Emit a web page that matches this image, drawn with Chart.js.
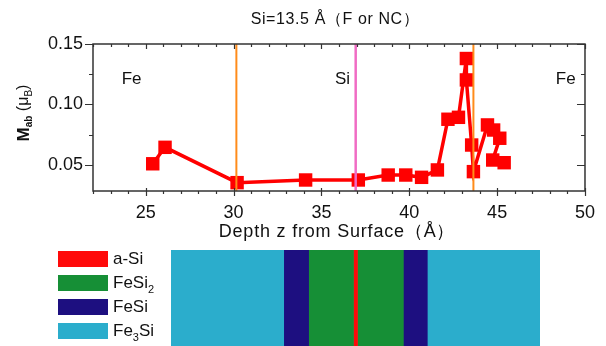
<!DOCTYPE html>
<html>
<head>
<meta charset="utf-8">
<script src="https://cdn.jsdelivr.net/npm/chart.js@4.4.1/dist/chart.umd.min.js"></script>
<style>
	body { margin: 0; background: #fff; }
	#wrap { position: relative; width: 606px; height: 346px; overflow: hidden; font-family: 'Liberation Sans', Arial, sans-serif; }
	#main { position: absolute; left: 0; top: 0; }
	#layers { position: absolute; left: 0; top: 246px; }
	#legend { position: absolute; left: 58px; top: 251px; }
	.leg-row { display: flex; align-items: flex-start; height: 24px; }
	.leg-box { width: 50px; height: 16px; margin-right: 5px; }
	.leg-text { font-size: 17px; color: #111; line-height: 16px; }
	.leg-text sub { font-size: 11px; vertical-align: -5px; line-height: 0; }
</style>
</head>
<body>
<div id="wrap">
	<canvas id="main" width="606" height="246"></canvas>
	<canvas id="layers" width="606" height="100"></canvas>
	<div id="legend"></div>
</div>
<script>
// data
const depth = [ 25.4, 26.1, 30.2, 34.1, 37.1, 38.8, 39.8, 40.7, 41.6, 42.2, 42.8, 43.25, 43.25, 43.55, 43.65, 44.45, 44.8, 45.15, 44.75, 45.4 ];
const moment = [ 0.051, 0.0646, 0.0354, 0.0376, 0.0376, 0.0417, 0.0417, 0.0398, 0.0459, 0.0878, 0.0894, 0.138, 0.1203, 0.0665, 0.0445, 0.0831, 0.0789, 0.0721, 0.0541, 0.0519 ];
const xTickValues = [ 25, 30, 35, 40, 45, 50 ];
const yTickValues = [ 0.05, 0.1, 0.15 ];
const boundaryDepths = [ 30.16, 36.95, 43.65 ];
const regionLabels = [ 'Fe', 'Si', 'Fe' ];
const regionDepths = [ 24.2, 36.2, 48.9 ];

// layer diagram
const layerNames = [ 'a-Si', 'FeSi2', 'FeSi', 'Fe3Si' ];
const layerStack = [ 'Fe3Si', 'FeSi', 'FeSi2', 'a-Si', 'FeSi2', 'FeSi', 'Fe3Si' ];
const layerThickness = [ 113, 25, 45, 4, 46, 24, 113 ];

const layerColors = { 'a-Si': '#ff0a0a', FeSi2: '#168f36', FeSi: '#1d0f80', Fe3Si: '#2badcc' };
const boundaryColors = [ '#ff8c1a', '#f06cc4', '#ff8c1a' ];
const xMin = 22, xMax = 50, yMin = 0.0285, yMax = 0.15;
const FONT = "'Liberation Sans', Arial, sans-serif";

//MAIN CHART - ticks, frame and texts
const framePlugin = {
	id: 'frame',
	afterDraw(chart) {
		const c = chart.ctx;
		const a = chart.chartArea;
		const xs = chart.scales.x;
		const ys = chart.scales.y;
		c.save();
		c.strokeStyle = '#333';
		c.lineWidth = 1.5;
		c.strokeRect(a.left, a.top, a.right - a.left, a.bottom - a.top);
		c.lineWidth = 1.2;
		c.beginPath();
		for (let v = xMin; v <= xMax; v++) {
			const px = Math.round(xs.getPixelForValue(v)) + 0.5;
			const major = v % 5 === 0;
			c.moveTo(px, a.bottom - (major ? 3 : 0));
			c.lineTo(px, a.bottom + (major ? 5 : 3));
			c.moveTo(px, a.top);
			c.lineTo(px, a.top + (major ? 5 : 3));
		}
		for (let v = 0.05; v <= yMax + 1e-9; v += 0.025) {
			const py = Math.round(ys.getPixelForValue(v)) + 0.5;
			const major = Math.abs(v * 20 - Math.round(v * 20)) < 1e-6;
			c.moveTo(a.left - (major ? 8 : 4), py);
			c.lineTo(a.left, py);
			c.moveTo(a.right, py);
			c.lineTo(a.right - (major ? 8 : 4), py);
		}
		c.stroke();

		c.fillStyle = '#111';
		c.textAlign = 'center';
		c.textBaseline = 'middle';
		const cx = (a.left + a.right) / 2;
		c.font = '16px ' + FONT;
		c.letterSpacing = '0.6px';
		c.fillText('Si=13.5 Å（F or NC）', cx - 4, 20);
		c.font = '18px ' + FONT;
		c.letterSpacing = '0.8px';
		c.fillText('Depth z from Surface（Å）', cx - 2, 232);
		c.letterSpacing = '0px';

		c.font = '17px ' + FONT;
		regionLabels.forEach((t, i) => {
			c.fillText(t, xs.getPixelForValue(regionDepths[i]), ys.getPixelForValue(0.1205));
		});

		// y title: M_ab (μ_B), rotated
		const parts = [
			{ t: 'M', f: 'bold 17px ' + FONT, dy: 0 },
			{ t: 'ab', f: 'bold 10px ' + FONT, dy: 5 },
			{ t: ' (μ', f: '16px ' + FONT, dy: 0 },
			{ t: 'B', f: '10px ' + FONT, dy: 5 },
			{ t: ')', f: '16px ' + FONT, dy: 0 }
		];
		let total = 0;
		parts.forEach((p) => {
			c.font = p.f;
			p.w = c.measureText(p.t).width;
			total += p.w;
		});
		c.translate(24, 113);
		c.rotate(-Math.PI / 2);
		c.textAlign = 'left';
		let x = -total / 2;
		parts.forEach((p) => {
			c.font = p.f;
			c.fillText(p.t, x, p.dy);
			x += p.w;
		});
		c.restore();
	}
};

const datasets = [
	{
		label: 'Mab',
		data: depth.map((d, i) => ({ x: d, y: moment[i] })),
		showLine: true,
		borderColor: '#ff0000',
		borderWidth: 3.5,
		pointStyle: 'rect',
		pointRadius: 9.5,
		pointBackgroundColor: '#ff0000',
		pointBorderWidth: 0,
		order: 1
	}
];
boundaryDepths.forEach((b, i) => {
	datasets.push({
		label: 'boundary' + i,
		data: [ { x: b, y: yMin }, { x: b, y: yMax } ],
		showLine: true,
		borderColor: boundaryColors[i],
		borderWidth: i === 1 ? 2.5 : 2,
		pointRadius: 0,
		order: 0
	});
});

const mainChart = new Chart(document.querySelector('#main').getContext('2d'), {
	type: 'scatter',
	data: { datasets: datasets },
	options: {
		responsive: false,
		animation: false,
		layout: { padding: { top: 44, right: 20, bottom: 0, left: 0 } },
		plugins: { legend: { display: false }, tooltip: { enabled: false } },
		scales: {
			x: {
				type: 'linear',
				min: xMin,
				max: xMax,
				afterBuildTicks: (s) => (s.ticks = xTickValues.map((v) => ({ value: v }))),
				afterFit: (s) => (s.height = 55),
				grid: { display: false, drawTicks: false },
				border: { display: false },
				ticks: { color: '#111', font: { size: 18, family: FONT }, padding: 11, maxRotation: 0, autoSkip: false }
			},
			y: {
				min: yMin,
				max: yMax,
				afterBuildTicks: (s) => (s.ticks = yTickValues.map((v) => ({ value: v }))),
				afterFit: (s) => (s.width = 93),
				grid: { display: false, drawTicks: false },
				border: { display: false },
				ticks: { color: '#111', font: { size: 18, family: FONT }, padding: 10, callback: (v) => v.toFixed(2) }
			}
		}
	},
	plugins: [ framePlugin ]
});

//LAYER DIAGRAM
const layersChart = new Chart(document.querySelector('#layers').getContext('2d'), {
	type: 'bar',
	data: {
		labels: [ '' ],
		datasets: layerStack.map((name, i) => ({
			label: name,
			data: [ layerThickness[i] ],
			backgroundColor: layerColors[name],
			borderWidth: 0,
			barThickness: 96
		}))
	},
	options: {
		responsive: false,
		animation: false,
		indexAxis: 'y',
		layout: { padding: { left: 171, right: 66, top: 4, bottom: 0 } },
		plugins: { legend: { display: false }, tooltip: { enabled: false } },
		scales: {
			x: { stacked: true, min: 0, max: 370, display: false },
			y: { stacked: true, display: false }
		}
	}
});

// html legend from the layer names
const legendBox = document.querySelector('#legend');
legendBox.innerHTML = layerNames
	.map(
		(n) => `
    <div class="leg-row">
        <div class="leg-box" style="background:${layerColors[n]}"></div>
        <span class="leg-text">${n.replace(/(\d)/g, '<sub>$1</sub>')}</span>
    </div>`
	)
	.join('');
</script>
</body>
</html>
